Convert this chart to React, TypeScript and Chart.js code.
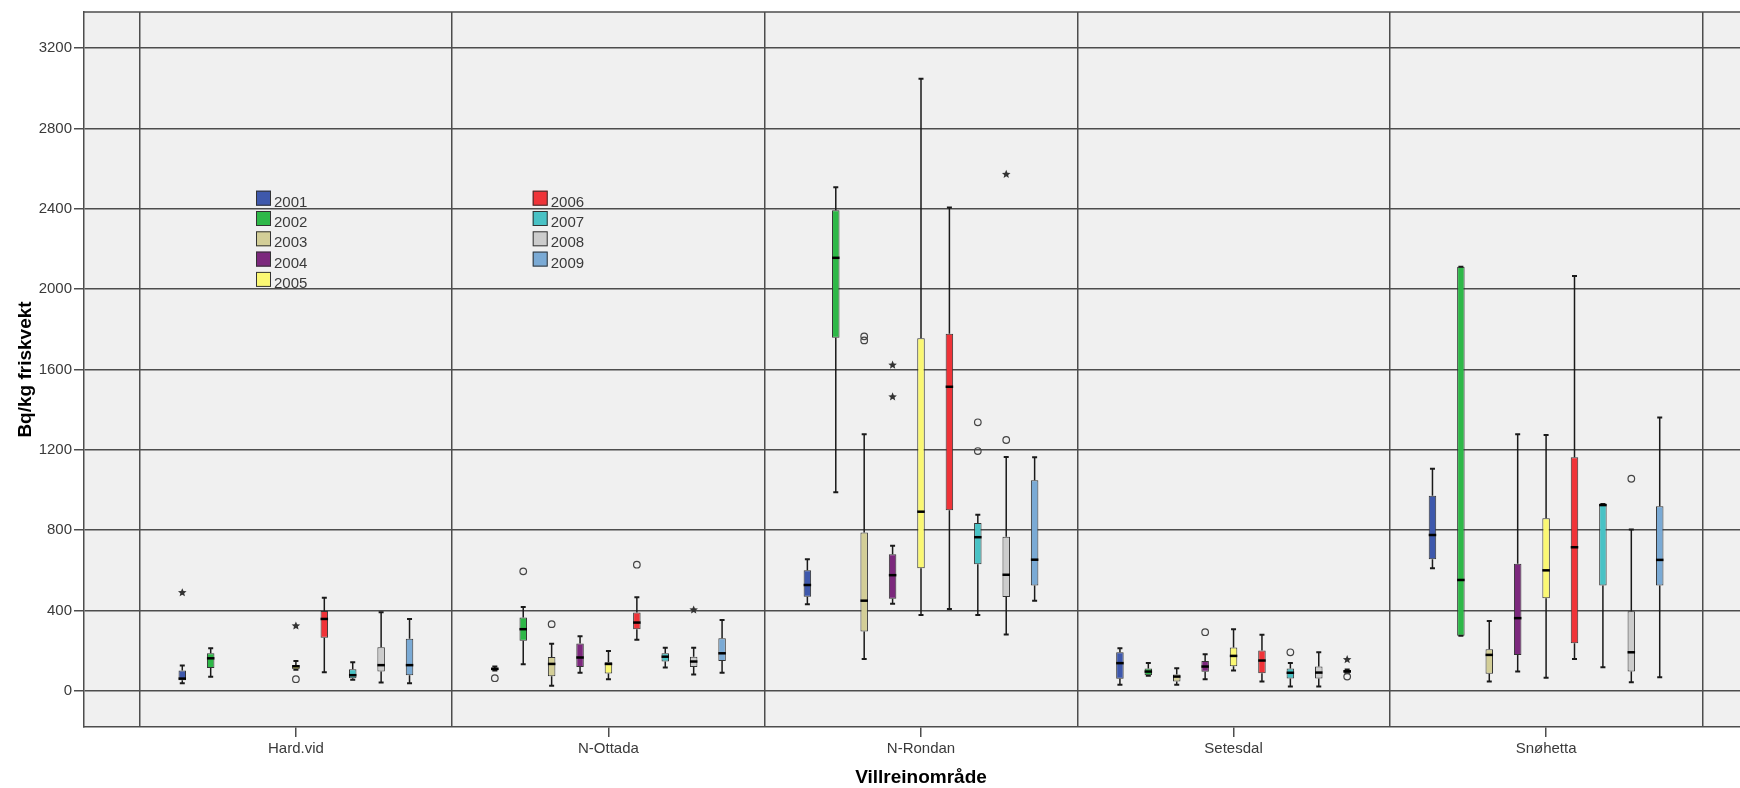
import { useEffect, useRef } from 'react';
import { Chart, registerables } from 'chart.js';

Chart.register(...registerables);

const AREAS = ['Hard.vid', 'N-Ottada', 'N-Rondan', 'Setesdal', 'Snøhetta'];
const YEARS = ['2001', '2002', '2003', '2004', '2005', '2006', '2007', '2008', '2009'];
const COLORS = ['#3E58AC', '#2EB848', '#D3CE97', '#7C287D', '#FBF873', '#EF3338', '#48C2C5', '#CCCCCC', '#7AAAD5'];
const Y_TICKS = [0, 400, 800, 1200, 1600, 2000, 2400, 2800, 3200];
const Y_MIN = -180;
const Y_MAX = 3380;
const X_MIN = -0.678;
const X_MAX = 4.678;
const X_BOUNDS = [-0.5, 0.5, 1.5, 2.5, 3.5, 4.5];

// [min, q1, median, q3, max] per area (null = no data)
type Box = [number, number, number, number, number] | null;
const BOX_2001: Box[] = [[38, 53, 61, 101, 126], [101, 101, 110, 113, 121], [431, 468, 527, 600, 655], [30, 60, 138, 192, 212], [610, 655, 776, 972, 1106]];
const BOX_2002: Box[] = [[70, 114, 162, 187, 212], [133, 250, 307, 365, 418], [989, 1758, 2156, 2393, 2507], [75, 78, 96, 111, 139], [274, 274, 552, 2111, 2111]];
const BOX_2003: Box[] = [null, [25, 73, 134, 169, 234], [159, 295, 449, 788, 1277], [30, 46, 71, 81, 113], [46, 85, 179, 207, 348]];
const BOX_2004: Box[] = [null, [90, 119, 166, 236, 272], [434, 458, 576, 680, 723], [58, 95, 121, 148, 182], [96, 179, 362, 633, 1277]];
const BOX_2005: Box[] = [[105, 108, 122, 129, 149], [58, 86, 134, 143, 199], [378, 610, 892, 1755, 3048], [101, 123, 174, 216, 307], [65, 461, 600, 859, 1274]];
const BOX_2006: Box[] = [[93, 264, 358, 398, 464], [254, 307, 340, 390, 466], [408, 899, 1514, 1778, 2406], [46, 88, 151, 201, 279], [159, 237, 715, 1163, 2066]];
const BOX_2007: Box[] = [[55, 63, 78, 108, 143], [116, 146, 170, 187, 214], [378, 630, 765, 836, 877], [22, 61, 90, 111, 139], [117, 524, 925, 930, 930]];
const BOX_2008: Box[] = [[41, 96, 128, 217, 391], [82, 119, 146, 170, 214], [280, 467, 578, 767, 1164], [22, 61, 91, 121, 192], [43, 96, 192, 396, 803]];
const BOX_2009: Box[] = [[38, 78, 128, 260, 358], [90, 149, 187, 262, 353], [448, 524, 653, 1048, 1163], [88, 90, 97, 104, 106], [68, 524, 652, 919, 1361]];

// outliers (circles) per area
const OUT_2001 = [[], [63], [], [], []];
const OUT_2002 = [[], [595], [], [], []];
const OUT_2003 = [[], [332], [1745, 1765], [], []];
const OUT_2004 = [[], [], [], [292], []];
const OUT_2005 = [[58], [], [], [], []];
const OUT_2006 = [[], [628], [], [], []];
const OUT_2007 = [[], [], [1194, 1337], [192], []];
const OUT_2008 = [[], [], [1249], [], [1056]];
const OUT_2009 = [[], [], [], [71], []];

// extremes (stars) per area
const EXT_2001 = [[489], [], [], [], []];
const EXT_2002 = [[], [], [], [], []];
const EXT_2003 = [[], [], [], [], []];
const EXT_2004 = [[], [], [1464, 1622], [], []];
const EXT_2005 = [[323], [], [], [], []];
const EXT_2006 = [[], [], [], [], []];
const EXT_2007 = [[], [], [], [], []];
const EXT_2008 = [[], [403], [2572], [], []];
const EXT_2009 = [[], [], [], [156], []];

const BOXES = [BOX_2001, BOX_2002, BOX_2003, BOX_2004, BOX_2005, BOX_2006, BOX_2007, BOX_2008, BOX_2009];
const OUTS: number[][][] = [OUT_2001, OUT_2002, OUT_2003, OUT_2004, OUT_2005, OUT_2006, OUT_2007, OUT_2008, OUT_2009];
const EXTS: number[][][] = [EXT_2001, EXT_2002, EXT_2003, EXT_2004, EXT_2005, EXT_2006, EXT_2007, EXT_2008, EXT_2009];

const FONT = '"Liberation Sans", Arial, sans-serif';
const GRID = '#4d4d4d';

const bgPlugin = {
  id: 'plotBg',
  beforeDraw(chart: any) {
    const { ctx, chartArea: a } = chart;
    ctx.save();
    ctx.fillStyle = '#F0F0F0';
    ctx.fillRect(a.left, a.top, a.right - a.left, a.bottom - a.top);
    ctx.restore();
  },
  beforeDatasetsDraw(chart: any) {
    const { ctx, chartArea: a } = chart;
    ctx.save();
    ctx.strokeStyle = GRID;
    ctx.lineWidth = 1.5;
    ctx.beginPath();
    ctx.moveTo(a.left, a.top);
    ctx.lineTo(a.right, a.top);
    ctx.moveTo(a.right, a.top);
    ctx.lineTo(a.right, a.bottom);
    ctx.stroke();
    ctx.restore();
  },
};

function drawStar(ctx: CanvasRenderingContext2D, x: number, y: number, r: number) {
  ctx.beginPath();
  for (let k = 0; k < 10; k++) {
    const ang = -Math.PI / 2 + (k * Math.PI) / 5;
    const rr = k % 2 === 0 ? r : r * 0.45;
    const px = x + rr * Math.cos(ang);
    const py = y + rr * Math.sin(ang);
    if (k === 0) ctx.moveTo(px, py);
    else ctx.lineTo(px, py);
  }
  ctx.closePath();
  ctx.fill();
}

const boxPlugin = {
  id: 'boxExtras',
  afterDatasetsDraw(chart: any) {
    const { ctx } = chart;
    const ys = chart.scales.y;
    ctx.save();
    BOXES.forEach((boxes, di) => {
      const meta = chart.getDatasetMeta(di);
      meta.data.forEach((el: any, j: number) => {
        const x = el.x;
        const w = el.width;
        const b = boxes[j];
        if (b) {
          const [mn, q1, md, q3, mx] = b;
          ctx.strokeStyle = '#1a1a1a';
          ctx.lineWidth = 1.5;
          ctx.beginPath();
          if (mx > q3) {
            ctx.moveTo(x, ys.getPixelForValue(q3));
            ctx.lineTo(x, ys.getPixelForValue(mx));
          }
          if (mn < q1) {
            ctx.moveTo(x, ys.getPixelForValue(q1));
            ctx.lineTo(x, ys.getPixelForValue(mn));
          }
          ctx.stroke();
          ctx.lineWidth = 2;
          ctx.beginPath();
          [mn, mx].forEach((v) => {
            const py = ys.getPixelForValue(v);
            ctx.moveTo(x - 2.5, py);
            ctx.lineTo(x + 2.5, py);
          });
          ctx.stroke();
          ctx.fillStyle = '#000';
          const pm = ys.getPixelForValue(md);
          ctx.fillRect(x - w / 2, pm - 1.25, w, 2.5);
        }
        ctx.strokeStyle = '#444';
        ctx.lineWidth = 1.2;
        OUTS[di][j].forEach((v) => {
          ctx.beginPath();
          ctx.arc(x, ys.getPixelForValue(v), 3.3, 0, Math.PI * 2);
          ctx.stroke();
        });
        ctx.fillStyle = '#333';
        EXTS[di][j].forEach((v) => {
          drawStar(ctx, x, ys.getPixelForValue(v), 4.5);
        });
      });
    });
    ctx.restore();
  },
};

const legendPlugin = {
  id: 'yearLegend',
  afterDraw(chart: any) {
    const { ctx, chartArea } = chart;
    ctx.save();
    ctx.font = `15px ${FONT}`;
    ctx.textBaseline = 'alphabetic';
    ctx.textAlign = 'left';
    YEARS.forEach((yr, i) => {
      const col = i < 5 ? 0 : 1;
      const row = i < 5 ? i : i - 5;
      const bx = chartArea.left + (col === 0 ? 172 : 448.7);
      const by = chartArea.top + 178.7 + row * 20.3;
      ctx.fillStyle = COLORS[i];
      ctx.fillRect(bx, by, 15, 15);
      ctx.strokeStyle = '#333';
      ctx.lineWidth = 1;
      ctx.strokeRect(bx + 0.5, by + 0.5, 14, 14);
      ctx.fillStyle = '#3a3a3a';
      ctx.fillText(yr, bx + 18, by + 16);
    });
    ctx.restore();
  },
};

export default function App() {
  const ref = useRef<HTMLCanvasElement | null>(null);

  useEffect(() => {
    document.body.style.margin = '0';
    document.documentElement.style.overflow = 'hidden';
    document.body.style.overflow = 'hidden';
    const canvas = ref.current;
    if (!canvas) return;
    const datasets = YEARS.map((yr, di) => ({
      label: yr,
      data: AREAS.map((_, i) => {
        const b = BOXES[di][i];
        return { x: i, y: b ? [b[1], b[3]] : null };
      }),
      backgroundColor: COLORS[di],
      borderColor: '#333',
      borderWidth: 1,
      borderSkipped: false,
      categoryPercentage: 0.818,
      barPercentage: 0.264,
      xAxisID: 'x',
      yAxisID: 'y',
    }));

    const chart = new Chart(canvas, {
      type: 'bar',
      data: { datasets } as any,
      options: {
        animation: false,
        responsive: true,
        maintainAspectRatio: false,
        layout: { padding: { top: 12, left: 0, right: 0, bottom: 0 } },
        plugins: {
          legend: { display: false },
          tooltip: { enabled: false },
        },
        scales: {
          x: {
            type: 'linear',
            position: 'bottom',
            min: X_MIN,
            max: X_MAX,
            offset: false,
            afterBuildTicks: (scale: any) => {
              scale.ticks = AREAS.map((_, i) => ({ value: i }));
            },
            afterFit: (scale: any) => {
              scale.height = 61;
            },
            grid: {
              offset: false,
              drawOnChartArea: false,
              drawTicks: true,
              tickLength: 10,
              tickColor: GRID,
              tickWidth: 1.5,
              color: GRID,
              lineWidth: 1.5,
            },
            border: { display: true, color: GRID, width: 1.5 },
            ticks: {
              autoSkip: false,
              maxRotation: 0,
              padding: 3,
              color: '#3a3a3a',
              font: { family: FONT, size: 15 },
              callback: (_v: any, i: number) => AREAS[i] ?? '',
            },
            title: {
              display: true,
              text: 'Villreinområde',
              color: '#000',
              font: { family: FONT, size: 19, weight: 'bold', lineHeight: 1 },
              padding: { top: 0, bottom: 1 },
            },
          },
          xg: {
            type: 'linear',
            axis: 'x',
            position: 'bottom',
            min: X_MIN,
            max: X_MAX,
            offset: false,
            afterBuildTicks: (scale: any) => {
              scale.ticks = X_BOUNDS.map((v) => ({ value: v }));
            },
            afterFit: (scale: any) => {
              scale.height = 0;
            },
            grid: {
              offset: false,
              drawOnChartArea: true,
              drawTicks: false,
              color: GRID,
              lineWidth: 1.5,
            },
            border: { display: false },
            ticks: { display: false },
          },
          y: {
            type: 'linear',
            position: 'left',
            min: Y_MIN,
            max: Y_MAX,
            beginAtZero: false,
            afterBuildTicks: (scale: any) => {
              scale.ticks = Y_TICKS.map((v) => ({ value: v }));
            },
            afterFit: (scale: any) => {
              scale.width = 84;
            },
            grid: {
              drawTicks: true,
              tickLength: 10,
              tickColor: GRID,
              tickWidth: 1.5,
              color: GRID,
              lineWidth: 1.5,
            },
            border: { display: true, color: GRID, width: 1.5 },
            ticks: {
              padding: 2,
              color: '#3a3a3a',
              font: { family: FONT, size: 15 },
              callback: (v: any) => String(v),
            },
            title: {
              display: true,
              text: 'Bq/kg friskvekt',
              color: '#000',
              font: { family: FONT, size: 19, weight: 'bold', lineHeight: 1 },
              padding: { top: 16, bottom: 0 },
            },
          },
        },
      } as any,
      plugins: [bgPlugin, boxPlugin, legendPlugin],
    });
    return () => chart.destroy();
  }, []);

  return (
    <div style={{ width: 1740, height: 788, overflow: 'hidden' }}>
      <div style={{ width: 1758, height: 788 }}>
        <canvas ref={ref} />
      </div>
    </div>
  );
}
